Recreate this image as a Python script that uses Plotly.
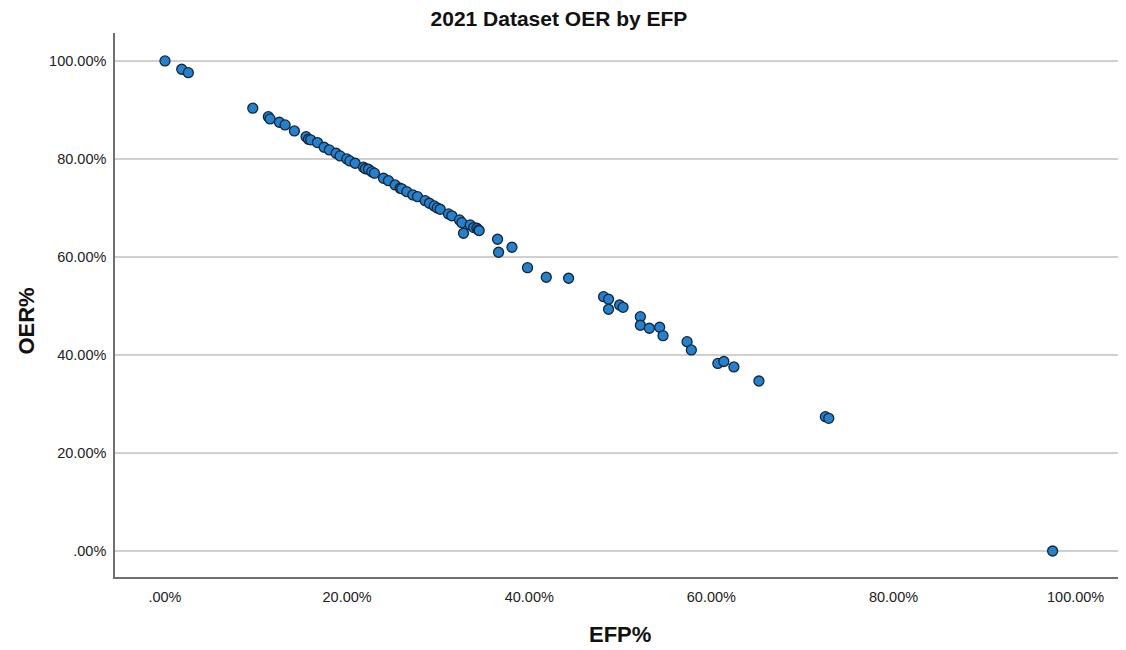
import plotly.graph_objects as go

efp = [0.0, 1.84, 2.56, 9.64, 11.35, 11.54, 12.56, 13.19, 14.21, 15.49, 15.75, 16.0,
       16.74, 17.47, 18.05, 18.79, 19.23, 19.97, 20.3, 20.88, 21.79, 22.0, 22.34, 22.71,
       23.0, 23.99, 24.54, 25.27, 25.82, 26.0, 26.56, 27.22, 27.73, 28.57, 29.04, 29.56,
       29.9, 30.22, 31.13, 31.5, 32.34, 32.6, 32.78, 33.52, 33.9, 34.25, 34.43, 34.5,
       36.52, 36.63, 38.1, 39.81, 41.87, 44.32, 48.16, 48.71, 48.71, 49.92, 50.3,
       52.2, 52.2, 53.19, 54.32, 54.69, 57.33, 57.8, 60.71, 61.37, 62.47, 65.22,
       72.52, 72.89, 97.47]
oer = [100.0, 98.3, 97.6, 90.35, 88.63, 88.16, 87.49, 86.94, 85.71, 84.55, 84.02, 83.9,
       83.33, 82.39, 81.84, 81.16, 80.61, 80.0, 79.6, 79.12, 78.31, 78.0, 77.9, 77.41,
       77.1, 76.06, 75.57, 74.69, 74.02, 73.9, 73.33, 72.65, 72.31, 71.49, 70.96, 70.41,
       70.0, 69.73, 68.78, 68.4, 67.55, 67.0, 64.84, 66.53, 66.0, 65.86, 65.51, 65.4,
       63.61, 60.96, 61.98, 57.82, 55.86, 55.65, 51.9, 51.37, 49.33, 50.2, 49.73,
       47.82, 46.06, 45.45, 45.65, 43.94, 42.71, 41.02, 38.27, 38.67, 37.55, 34.69,
       27.41, 27.06, 0.0]

tick_vals = [0, 20, 40, 60, 80, 100]
tick_text = [".00%", "20.00%", "40.00%", "60.00%", "80.00%", "100.00%"]

FONT = "Liberation Sans, Arial, sans-serif"

fig = go.Figure()
fig.add_trace(go.Scatter(
    x=efp, y=oer, mode="markers",
    marker=dict(size=10, color="#2282cf", line=dict(color="#14263a", width=1.3)),
    showlegend=False, hoverinfo="x+y",
))

fig.update_layout(
    width=1118, height=642,
    margin=dict(l=107, r=3, t=25, b=73),
    paper_bgcolor="white", plot_bgcolor="white",
    font=dict(family=FONT, color="#222222"),
    title=dict(text="<b>2021 Dataset OER by EFP</b>", x=0.4928, xref="container",
               xanchor="center", y=0.9835, yref="container", yanchor="middle",
               font=dict(size=21, family=FONT, color="#111111")),
    xaxis=dict(range=[-5.49, 105.2], tickvals=tick_vals, ticktext=tick_text,
               showgrid=False, zeroline=False, showline=True, linecolor="#707070",
               linewidth=1.5, ticks="", ticklabelstandoff=6,
               tickfont=dict(size=14.5, family=FONT, color="#222222")),
    yaxis=dict(range=[-5.31, 105.7], tickvals=tick_vals, ticktext=tick_text,
               showgrid=True, gridcolor="#d0d0d0", gridwidth=1.5,
               zeroline=False, showline=True, linecolor="#707070",
               linewidth=1.5, ticks="", ticklabelstandoff=4,
               tickfont=dict(size=14.5, family=FONT, color="#222222")),
    annotations=[
        dict(text="<b>EFP%</b>", xref="paper", yref="paper", x=0.501, y=-0.105,
             xanchor="center", yanchor="middle", showarrow=False,
             font=dict(size=22, family=FONT, color="#111111")),
        dict(text="<b>OER%</b>", xref="paper", yref="paper", x=-0.088, y=0.47,
             xanchor="center", yanchor="middle", showarrow=False, textangle=-90,
             font=dict(size=22, family=FONT, color="#111111")),
    ],
)

fig.write_html("out.html")
